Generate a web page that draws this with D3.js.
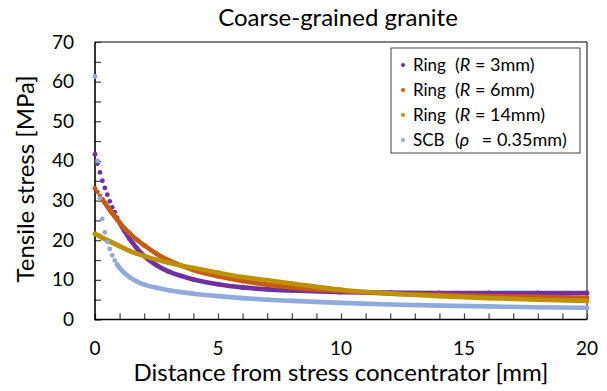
<!DOCTYPE html>
<html>
<head>
<meta charset="utf-8">
<script src="https://cdnjs.cloudflare.com/ajax/libs/d3/7.8.5/d3.min.js"></script>
<style>
body { margin: 0; background: #fff; }
text { font-family: Lato, "Liberation Sans", sans-serif; fill: #000; }
</style>
</head>
<body>
<div id="chart"></div>
<script>
// distance from the stress concentrator [mm]
var distance = [0, 0.1, 0.2, 0.3, 0.4, 0.5, 0.6, 0.7, 0.8, 0.9, 1.0,
    1.2, 1.4, 1.7, 2, 2.5, 3, 3.5, 4, 5, 6, 7, 8, 10, 12, 14, 16, 18, 20];

// tensile stress [MPa]
var ringR3 = [41.7, 39.3, 37.1, 35.0, 33.2, 31.5, 29.8, 28.3, 27.1, 25.7, 24.4,
    22.3, 20.4, 18.0, 16.0, 13.7, 12.1, 11.0, 10.1, 8.9, 8.1, 7.6, 7.3, 6.9, 6.8, 6.7, 6.7, 6.7, 6.7];
var ringR6 = [33.1, 32.2, 31.2, 30.3, 29.4, 28.5, 27.6, 26.8, 26.0, 25.2, 24.4,
    23.0, 21.8, 20.1, 18.7, 16.6, 14.9, 13.6, 12.5, 10.9, 9.7, 8.8, 8.1, 7.2, 6.5, 6.2, 5.9, 5.7, 5.5];
var ringR14 = [21.6, 21.3, 21.0, 20.6, 20.3, 20.0, 19.7, 19.4, 19.1, 18.8, 18.5,
    17.9, 17.3, 16.6, 16.0, 15.1, 14.3, 13.6, 13.0, 11.8, 10.7, 9.9, 9.1, 7.5, 6.6, 5.9, 5.4, 5.0, 4.7];
var scb = [61.3, 40.0, 30.6, 25.4, 22.0, 19.6, 17.8, 16.2, 14.9, 13.9, 13.0,
    11.7, 10.7, 9.6, 8.8, 8.0, 7.4, 6.9, 6.5, 5.9, 5.4, 5.0, 4.7, 4.2, 3.8, 3.5, 3.3, 3.1, 2.95];

var xTicks = [0, 5, 10, 15, 20];
var yTicks = [0, 10, 20, 30, 40, 50, 60, 70];

var series = [
    {name: 'Ring', param: 'R', value: ' = 3mm)', color: '#7030A0', data: ringR3, lineFrom: 1.0, gap: 0},
    {name: 'Ring', param: 'R', value: ' = 6mm)', color: '#C55A11', data: ringR6, lineFrom: 0.3, gap: 0},
    {name: 'Ring', param: 'R', value: ' = 14mm)', color: '#BF9000', data: ringR14, lineFrom: 0, gap: 0},
    {name: 'SCB', param: '\u03C1', value: ' = 0.35mm)', color: '#8FAADC', data: scb, lineFrom: 0.9, gap: 8}
];

var W = 607, H = 391;
var pLeft = 95, pRight = 587, pTop = 42, pBottom = 319.5;

var svg = d3.select('#chart').append('svg')
    .attr('width', W)
    .attr('height', H);

var x = d3.scaleLinear().domain([0, 20]).range([pLeft, pRight]);
var y = d3.scaleLinear().domain([0, 70]).range([pBottom, pTop]);

// frame (top and right)
svg.append('path')
    .attr('d', 'M' + pLeft + ',' + pTop + 'H' + pRight + 'V' + pBottom)
    .attr('fill', 'none')
    .attr('stroke', '#000')
    .attr('stroke-width', 1);

// ticks, pointing inward
var gx = svg.append('g').attr('transform', 'translate(0,' + pBottom + ')');
gx.call(d3.axisBottom(x).tickValues(d3.range(0, 21, 1)).tickSize(-6).tickFormat(''))
    .call(function(g) { g.select('.domain').remove(); })
    .selectAll('line').attr('stroke', '#404040').attr('stroke-width', 1.2);

var gy = svg.append('g').attr('transform', 'translate(' + pLeft + ',0)');
gy.call(d3.axisLeft(y).tickValues(d3.range(0, 71, 5)).tickSize(-6).tickFormat(''))
    .call(function(g) { g.select('.domain').remove(); })
    .selectAll('line').attr('stroke', '#404040').attr('stroke-width', 1.2);

// axis lines
svg.append('line')
    .attr('x1', pLeft).attr('x2', pLeft).attr('y1', pTop).attr('y2', pBottom)
    .attr('stroke', '#000').attr('stroke-width', 1.6);
svg.append('line')
    .attr('x1', pLeft - 0.8).attr('x2', pRight).attr('y1', pBottom).attr('y2', pBottom)
    .attr('stroke', '#000').attr('stroke-width', 1.6);

// tick labels
svg.selectAll('.xlab').data(xTicks).enter().append('text')
    .attr('class', 'xlab')
    .attr('x', function(d) { return x(d); })
    .attr('y', 355)
    .attr('text-anchor', 'middle')
    .style('font-size', '19px')
    .text(function(d) { return d; });

svg.selectAll('.ylab').data(yTicks).enter().append('text')
    .attr('class', 'ylab')
    .attr('x', 74)
    .attr('y', function(d) { return y(d) + 6.5; })
    .attr('text-anchor', 'end')
    .style('font-size', '19px')
    .text(function(d) { return d; });

// titles
svg.append('text')
    .attr('x', 338).attr('y', 26)
    .attr('text-anchor', 'middle')
    .style('font-size', '24px')
    .text('Coarse-grained granite');

svg.append('text')
    .attr('x', 341).attr('y', 381)
    .attr('text-anchor', 'middle')
    .style('font-size', '24px')
    .text('Distance from stress concentrator [mm]');

svg.append('text')
    .attr('transform', 'translate(34,179) rotate(-90)')
    .attr('text-anchor', 'middle')
    .style('font-size', '24px')
    .text('Tensile stress [MPa]');

// series
var line = d3.line()
    .x(function(d) { return x(d[0]); })
    .y(function(d) { return y(d[1]); })
    .curve(d3.curveMonotoneX);

series.forEach(function(s) {
    var pts = distance.map(function(d, i) { return [d, s.data[i]]; });
    var g = svg.append('g');
    g.append('path')
        .datum(pts.filter(function(p) { return p[0] >= s.lineFrom; }))
        .attr('d', line)
        .attr('fill', 'none')
        .attr('stroke', s.color)
        .attr('stroke-width', 4.6)
        .attr('stroke-linecap', 'round');
    g.selectAll('circle')
        .data(pts)
        .enter()
        .append('circle')
        .attr('cx', function(d) { return x(d[0]); })
        .attr('cy', function(d) { return y(d[1]); })
        .attr('r', 2.4)
        .attr('fill', s.color);
});

// legend
var lg = svg.append('g');
lg.append('rect')
    .attr('x', 391).attr('y', 48)
    .attr('width', 189).attr('height', 105)
    .attr('fill', '#fff')
    .attr('stroke', '#404040')
    .attr('stroke-width', 1);

var rows = lg.selectAll('.row').data(series).enter().append('g')
    .attr('class', 'row')
    .attr('transform', function(d, i) { return 'translate(0,' + (65 + i * 25) + ')'; });

rows.append('circle')
    .attr('cx', 403).attr('cy', 0).attr('r', 2)
    .attr('fill', function(d) { return d.color; });

rows.append('text')
    .attr('x', 413).attr('y', 6)
    .style('font-size', '17px')
    .text(function(d) { return d.name; });

var paren = rows.append('text')
    .attr('x', 455).attr('y', 6)
    .style('font-size', '18px');
paren.append('tspan').text('(');
paren.append('tspan').style('font-style', 'italic').text(function(d) { return d.param; });
paren.append('tspan')
    .attr('dx', function(d) { return d.gap; })
    .text(function(d) { return d.value; });
</script>
</body>
</html>
